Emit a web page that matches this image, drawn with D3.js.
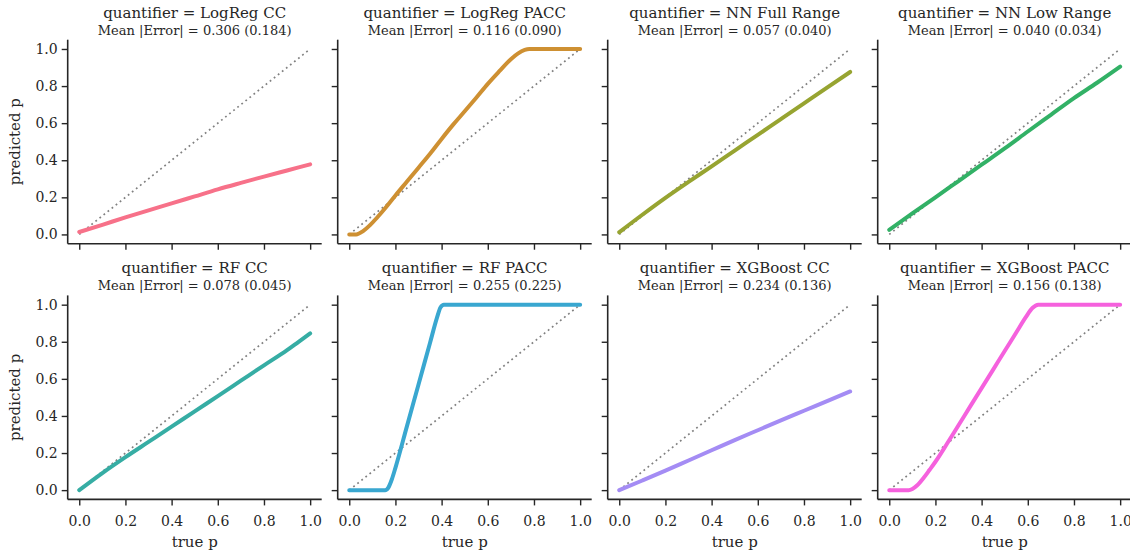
<!DOCTYPE html>
<html>
<head>
<meta charset="utf-8">
<script src="https://cdn.jsdelivr.net/npm/d3@7"></script>
<style>
  body { margin: 0; background: #fff; }
  svg text { font-family: "DejaVu Serif", serif; fill: #262626; }
</style>
</head>
<body>
<div id="chart"></div>
<script>
// facet names and summary errors
var quantifiers = ["LogReg CC", "LogReg PACC", "NN Full Range", "NN Low Range",
                   "RF CC", "RF PACC", "XGBoost CC", "XGBoost PACC"];
var meanErr = ["0.306", "0.116", "0.057", "0.040", "0.078", "0.255", "0.234", "0.156"];
var sdErr   = ["0.184", "0.090", "0.040", "0.034", "0.045", "0.225", "0.136", "0.138"];
var colors  = ["#f77189", "#ce9032", "#97a431", "#32b166", "#36ada4", "#39a7d0", "#a48cf4", "#f561dd"];
var ticks   = [0, 0.2, 0.4, 0.6, 0.8, 1.0];

// true p vs predicted p
var logregCC   = [[0,0.013],[0.1,0.052],[0.2,0.092],[0.3,0.13],[0.4,0.167],[0.5,0.205],
                  [0.6,0.243],[0.7,0.278],[0.8,0.312],[0.9,0.345],[1.0,0.378]];
var logregPACC = [[0,0],[0.03,0],[0.06,0.018],[0.09,0.05],[0.12,0.09],[0.16,0.148],[0.2,0.21],
                  [0.25,0.285],[0.3,0.36],[0.35,0.435],[0.4,0.515],[0.45,0.592],[0.5,0.664],
                  [0.55,0.737],[0.6,0.812],[0.65,0.88],[0.7,0.945],[0.73,0.975],[0.76,0.995],
                  [0.78,1.0],[1.0,1.0]];
var nnFull     = [[0,0.012],[0.1,0.106],[0.2,0.197],[0.3,0.283],[0.4,0.367],[0.5,0.452],[0.6,0.537],
                  [0.7,0.622],[0.8,0.707],[0.9,0.792],[1.0,0.876]];
var nnLow      = [[0,0.025],[0.1,0.113],[0.2,0.2],[0.3,0.288],[0.4,0.376],[0.5,0.464],[0.6,0.555],
                  [0.7,0.645],[0.8,0.735],[0.9,0.818],[1.0,0.905]];
var rfCC       = [[0,0],[0.1,0.092],[0.2,0.178],[0.3,0.26],[0.4,0.342],[0.5,0.425],[0.6,0.507],
                  [0.7,0.59],[0.8,0.673],[0.9,0.755],[0.95,0.80],[1.0,0.845]];
var rfPACC     = [[0,0],[0.155,0],[0.17,0.015],[0.185,0.06],[0.2,0.12],[0.25,0.345],[0.3,0.57],
                  [0.35,0.795],[0.38,0.93],[0.395,0.985],[0.41,1.0],[1.0,1.0]];
var xgbCC      = [[0,0],[0.1,0.052],[0.2,0.105],[0.3,0.16],[0.4,0.215],[0.5,0.27],[0.6,0.323],
                  [0.7,0.376],[0.8,0.428],[0.9,0.48],[1.0,0.532]];
var xgbPACC    = [[0,0],[0.084,0],[0.1,0.006],[0.12,0.025],[0.15,0.068],[0.175,0.11],[0.2,0.153],
                  [0.25,0.25],[0.3,0.35],[0.35,0.45],[0.4,0.55],[0.45,0.65],[0.5,0.75],[0.55,0.85],
                  [0.59,0.93],[0.62,0.982],[0.645,1.0],[1.0,1.0]];
var series = [logregCC, logregPACC, nnFull, nnLow, rfCC, rfPACC, xgbCC, xgbPACC];

var W = 1130, H = 557;
var panelW = 254, panelH = 204;
var colLeft = [67.7, 337.7, 607.7, 877.7];
var rowTop  = [39.7, 295.4];

var svg = d3.select("#chart").append("svg")
  .attr("width", W).attr("height", H);

var x = d3.scaleLinear().domain([-0.05, 1.05]).range([0, panelW]);
var y = d3.scaleLinear().domain([-0.05, 1.05]).range([panelH, 0]);
var fmt = d3.format(".1f");

var line = d3.line()
  .x(function(d) { return x(d[0]); })
  .y(function(d) { return y(d[1]); })
  .curve(d3.curveMonotoneX);

quantifiers.forEach(function(name, i) {
  var col = i % 4, row = Math.floor(i / 4);
  var g = svg.append("g")
    .attr("transform", "translate(" + colLeft[col] + "," + rowTop[row] + ")");

  // diagonal reference
  g.append("path")
    .attr("d", line([[0, 0], [1, 1]]))
    .attr("fill", "none")
    .attr("stroke", "#808080")
    .attr("stroke-width", 1.7)
    .attr("stroke-dasharray", "1.8,3.4");

  g.append("path")
    .attr("d", line(series[i]))
    .attr("fill", "none")
    .attr("stroke", colors[i])
    .attr("stroke-width", 4)
    .attr("stroke-linecap", "round")
    .attr("stroke-linejoin", "round");

  var xAxis = d3.axisBottom(x).tickValues(ticks).tickSize(6).tickPadding(11)
    .tickFormat(row === 1 ? fmt : "");
  var yAxis = d3.axisLeft(y).tickValues(ticks).tickSize(6).tickPadding(4)
    .tickFormat(col === 0 ? fmt : "");

  var ax = g.append("g").attr("transform", "translate(0," + panelH + ")").call(xAxis);
  var ay = g.append("g").call(yAxis);
  [ax, ay].forEach(function(a) {
    a.select(".domain").attr("stroke", "#262626").attr("stroke-width", 1.6)
      .attr("d", a === ax ? "M0,0H" + panelW : "M0,0V" + panelH);
    a.selectAll(".tick line").attr("stroke", "#262626").attr("stroke-width", 1.4);
    a.selectAll(".tick text").attr("font-size", 14).attr("font-family", "DejaVu Serif").attr("fill", "#262626");
  });

  // two-line facet title
  g.append("text")
    .attr("x", panelW / 2).attr("y", -22)
    .attr("text-anchor", "middle")
    .attr("font-size", 15)
    .text("quantifier = " + name);
  g.append("text")
    .attr("x", panelW / 2).attr("y", -5)
    .attr("text-anchor", "middle")
    .attr("font-size", 13)
    .text("Mean |Error| = " + meanErr[i] + " (" + sdErr[i] + ")");

  if (col === 0) {
    g.append("text")
      .attr("transform", "translate(-48," + panelH / 2 + ") rotate(-90)")
      .attr("text-anchor", "middle")
      .attr("font-size", 15)
      .text("predicted p");
  }
  if (row === 1) {
    g.append("text")
      .attr("x", panelW / 2).attr("y", panelH + 48)
      .attr("text-anchor", "middle")
      .attr("font-size", 15)
      .text("true p");
  }
});
</script>
</body>
</html>
